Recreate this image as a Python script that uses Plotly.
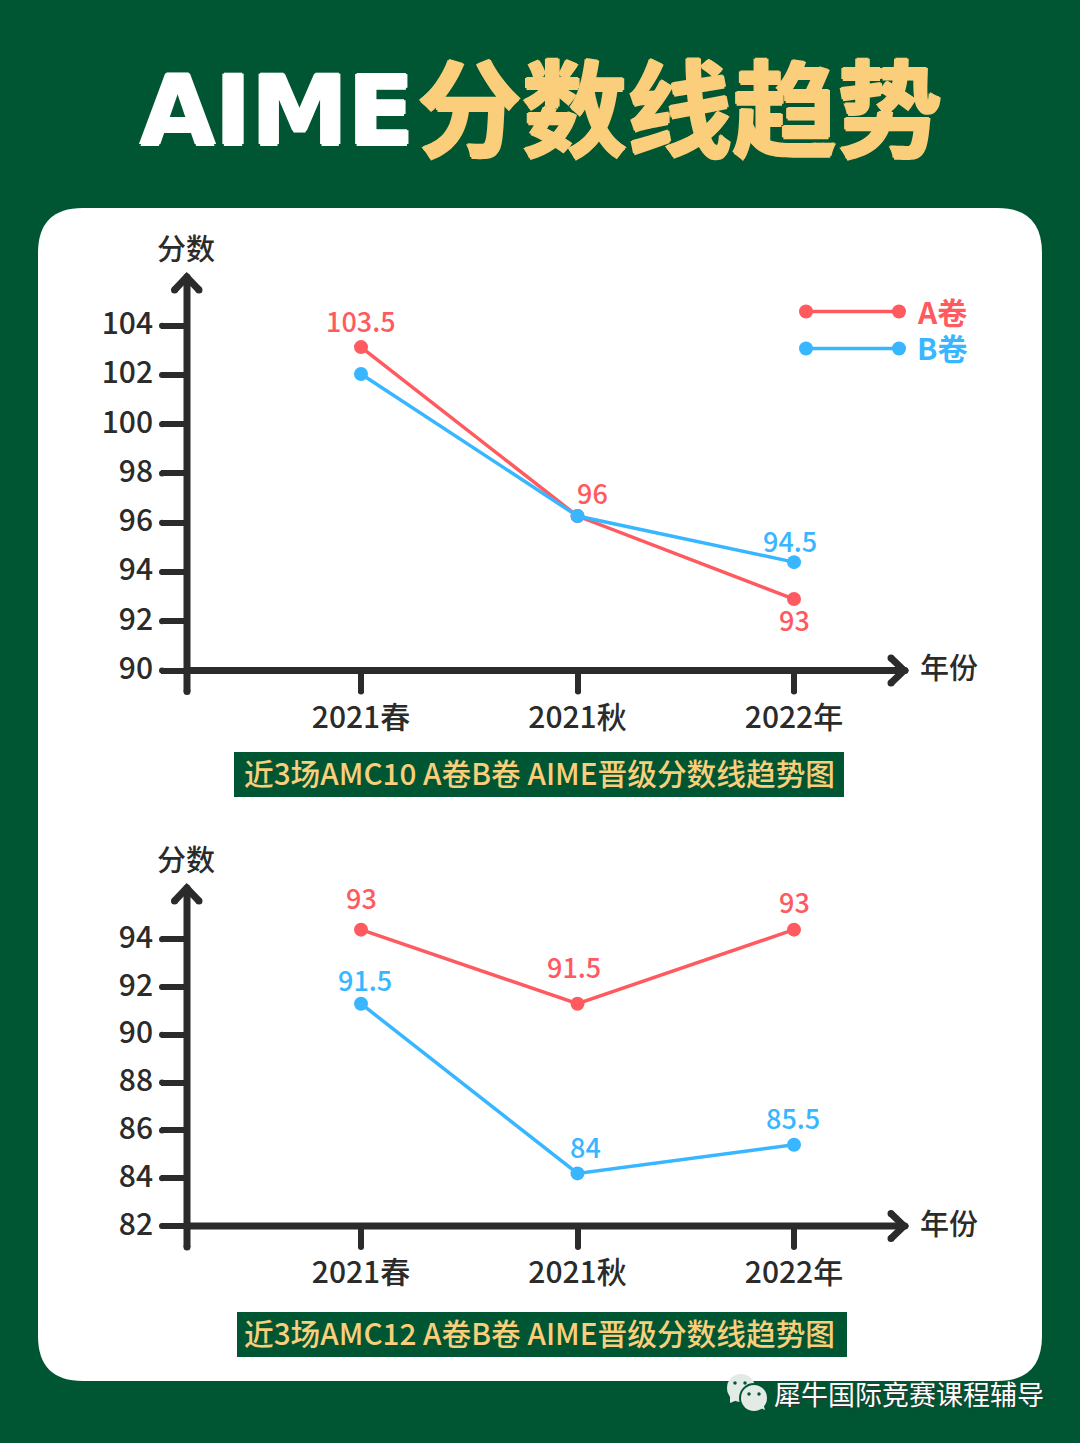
import plotly.graph_objects as go

W, H = 1080, 1443
GREEN = '#005632'
YELLOW = '#FACE7A'
RED = '#FF5A5F'
BLUE = '#38B6FF'
DARK = '#2B2B2B'
CJK = 'Noto Sans CJK SC'

# data (positions, labels as printed on it)
categories = ['2021春', '2021秋', '2022年']

amc10_ticks = [90, 92, 94, 96, 98, 100, 102, 104]
amc10_a = [103.13, 96.27, 92.9]
amc10_b = [102.04, 96.27, 94.4]
amc10_a_labels = ['103.5', '96', '93']
amc10_b_labels = ['', '', '94.5']

amc12_ticks = [82, 84, 86, 88, 90, 92, 94]
amc12_a = [94.4, 91.3, 94.4]
amc12_b = [91.3, 84.2, 85.4]
amc12_a_labels = ['93', '91.5', '93']
amc12_b_labels = ['91.5', '84', '85.5']


def px(x):
    return x / W


def py(y):
    return 1 - y / H


shapes = []
annotations = []


def dot(x, y, d, color):
    shapes.append(dict(type='circle', xref='paper', yref='paper',
                       x0=px(x - d / 2), x1=px(x + d / 2),
                       y0=py(y - d / 2), y1=py(y + d / 2),
                       fillcolor=color, line_width=0))


def stroke(points, width, color):
    d = 'M' + ' L'.join(f'{px(x):.5f},{py(y):.5f}' for x, y in points)
    shapes.append(dict(type='path', path=d, xref='paper', yref='paper',
                       line=dict(color=color, width=width)))
    dot(*points[0], width, color)
    dot(*points[-1], width, color)


def text(x, y, s, size, color, weight=400, family=CJK, shadow=None):
    font = dict(family=family, size=size, color=color, weight=weight)
    if shadow:
        font['shadow'] = shadow
    annotations.append(dict(x=px(x), y=py(y), xref='paper', yref='paper', text=s,
                            showarrow=False, font=font, xanchor='center', yanchor='middle'))


def fatten(color, d):
    return f'{d}px 0 {color}, -{d}px 0 {color}, 0 {d}px {color}, 0 -{d}px {color}'


# white card
x0, x1, y0, y1, r = px(38), px(1042), py(208), py(1381), 45
rx, ry = r / W, r / H
shapes.append(dict(type='path', xref='paper', yref='paper', fillcolor='white', line_width=0, layer='below',
                   path=f'M{x0 + rx},{y0} L{x1 - rx},{y0} Q{x1},{y0} {x1},{y0 - ry} L{x1},{y1 + ry} '
                        f'Q{x1},{y1} {x1 - rx},{y1} L{x0 + rx},{y1} Q{x0},{y1} {x0},{y1 + ry} '
                        f'L{x0},{y0 - ry} Q{x0},{y0} {x0 + rx},{y0} Z'))

# title
text(275, 110, 'AIME', 97, 'white', 700, 'DejaVu Sans', shadow=fatten('white', 1.5))
annotations[-1]['x'] = px(277)
text(679, 102, '分数线趋势', 105, YELLOW, 700, shadow=fatten(YELLOW, 1.5))

fig = go.Figure()

AXIS_X0, AXIS_X1 = 187, 908
CAT_PX = [361, 578, 794]
unit_x = (CAT_PX[2] - CAT_PX[0]) / 2
x_range = [(AXIS_X0 - CAT_PX[0]) / unit_x, (AXIS_X1 - CAT_PX[0]) / unit_x]


def add_chart(n, base_y, top_y, tick_vals, ymin, unit, a, b, a_labels, b_labels, a_shift, b_shift,
              caption, cap_box, y_title, x_title):
    xa, ya = ('x', 'y') if n == 1 else (f'x{n}', f'y{n}')
    for vals, color in ((a, RED), (b, BLUE)):
        fig.add_trace(go.Scatter(x=categories, y=vals, xaxis=xa, yaxis=ya, mode='lines+markers',
                                 line=dict(color=color, width=3.5), marker=dict(color=color, size=14),
                                 showlegend=False, hoverinfo='skip'))
    suffix = '' if n == 1 else str(n)
    ymax = ymin + (base_y - top_y) / unit
    fig.update_layout({
        f'xaxis{suffix}': dict(domain=[px(AXIS_X0), px(AXIS_X1)], type='category', categoryorder='array',
                               categoryarray=categories, range=x_range, anchor=ya, showgrid=False,
                               zeroline=False, showline=False, automargin=False,
                               ticks='outside', ticklen=21, tickwidth=6, tickcolor=DARK,
                               tickfont=dict(family=CJK, size=30, color=DARK, weight=500), ticklabelstandoff=-1),
        f'yaxis{suffix}': dict(domain=[py(base_y), py(top_y)], range=[ymin, ymax], anchor=xa, showgrid=False,
                               zeroline=False, showline=False, automargin=False,
                               tickmode='array', tickvals=tick_vals, ticklen=25, tickwidth=6, tickcolor=DARK,
                               ticks='outside', tickfont=dict(family=CJK, size=30, color=DARK, weight=500),
                               ticklabelstandoff=2, ticklabelshift=-2),
    })
    # point labels
    for labels, vals, color, shifts in ((a_labels, a, RED, a_shift), (b_labels, b, BLUE, b_shift)):
        for cat, v, lab, (dx, dy) in zip(categories, vals, labels, shifts):
            if lab:
                annotations.append(dict(x=cat, y=v, xref=xa, yref=ya, text=lab, showarrow=False,
                                        xshift=dx, yshift=dy + 2, xanchor='center', yanchor='middle',
                                        font=dict(family=CJK, size=27, color=color, weight=500)))
    # axis lines, rounded tick ends, origin stub, arrow heads
    stroke([(AXIS_X0, base_y + 21), (AXIS_X0, top_y)], 7, DARK)
    stroke([(AXIS_X0, base_y), (AXIS_X1 - 3, base_y)], 7, DARK)
    for v in tick_vals:
        dot(AXIS_X0 - 25, base_y - (v - ymin) * unit, 6, DARK)
    for c in CAT_PX:
        dot(c, base_y + 21, 6, DARK)
    stroke([(174.5, top_y + 13), (AXIS_X0 - 0.3, top_y), (199, top_y + 13)], 7, DARK)
    stroke([(AXIS_X1 - 17, base_y - 12.5), (AXIS_X1 - 4, base_y), (AXIS_X1 - 17, base_y + 12.5)], 7, DARK)
    text(186, y_title - 2, '分数', 29, DARK, 500)
    text(949, x_title - 1, '年份', 29, DARK, 500)
    # caption bar
    bx0, bx1, by0, by1 = cap_box
    shapes.append(dict(type='rect', xref='paper', yref='paper', x0=px(bx0), x1=px(bx1), y0=py(by1), y1=py(by0),
                       fillcolor=GREEN, line_width=0))
    text(539.5, (by0 + by1) / 2 - 2, caption, 29.7, YELLOW, 500)


add_chart(1, 670.5, 277, amc10_ticks, 90, 24.63, amc10_a, amc10_b, amc10_a_labels, amc10_b_labels,
          [(0, 25), (15, 22), (0, -22)], [(0, 0), (0, 0), (-4, 20)],
          '近3场AMC10 A卷B卷 AIME晋级分数线趋势图', (234, 844, 752, 797), 249, 667)
add_chart(2, 1226, 888, amc12_ticks, 82, 23.9, amc12_a, amc12_b, amc12_a_labels, amc12_b_labels,
          [(0, 30), (-4, 35), (0, 26)], [(4, 22), (8, 25), (-1, 25)],
          '近3场AMC12 A卷B卷 AIME晋级分数线趋势图', (237, 847, 1312, 1357), 860, 1223)

# legend
for y, color, label in ((311.5, RED, 'A卷'), (348.5, BLUE, 'B卷')):
    stroke([(806, y), (899, y)], 3.5, color)
    dot(806, y, 14, color)
    dot(899, y, 14, color)
    text(942, y - 1, label, 30, color, 700)

# watermark
BUBBLE = '#E3EBE6'
dot(741, 1388, 28, BUBBLE)
shapes.append(dict(type='path', xref='paper', yref='paper', fillcolor=BUBBLE, line_width=0,
                   path=f'M{px(730)},{py(1396)} L{px(730)},{py(1403)} L{px(740)},{py(1399)} Z'))
dot(754, 1398, 30, GREEN)
dot(754, 1398, 26, BUBBLE)
shapes.append(dict(type='path', xref='paper', yref='paper', fillcolor=BUBBLE, line_width=0,
                   path=f'M{px(758)},{py(1407)} L{px(765)},{py(1410)} L{px(763)},{py(1403)} Z'))
for ex, ey, color in ((735, 1383, GREEN), (745, 1383, GREEN), (749, 1394, GREEN), (759, 1394, GREEN)):
    dot(ex, ey, 3.5, color)
text(909, 1393, '犀牛国际竞赛课程辅导', 27, 'white', 400, shadow='1px 1px 1px #333333')

fig.update_layout(width=W, height=H, autosize=False, margin=dict(l=0, r=0, t=0, b=0),
                  paper_bgcolor=GREEN, plot_bgcolor='rgba(0,0,0,0)',
                  shapes=shapes, annotations=annotations, showlegend=False)

# page has a default body margin that would shift everything by 8px
fig.write_html('out.html', config={'displayModeBar': False},
               post_script="document.body.style.margin='0';document.documentElement.style.overflow='hidden';")
